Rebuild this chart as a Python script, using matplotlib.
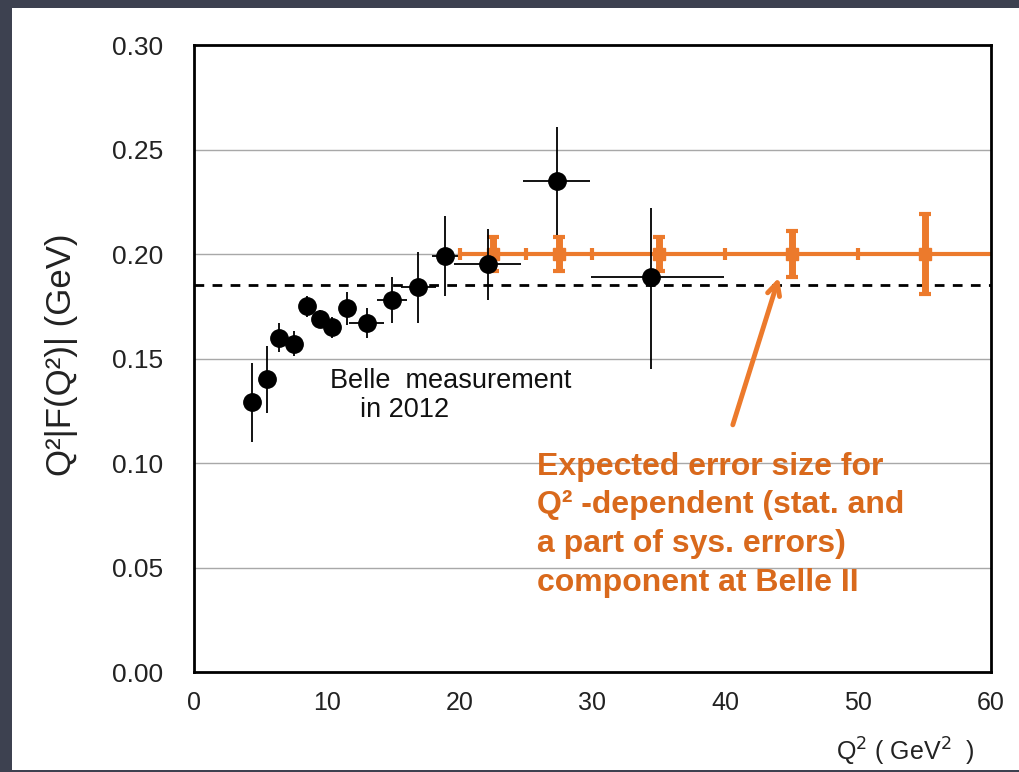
import matplotlib.pyplot as plt
from matplotlib.patches import Rectangle

plt.rcParams['font.family'] = ['Liberation Sans', 'DejaVu Sans']

# Belle 2012 measurement
belle_q2 = [4.4, 5.5, 6.4, 7.5, 8.5, 9.5, 10.4, 11.5, 13.0, 14.9, 16.9, 18.9, 22.1, 27.3, 34.4]
belle_val = [0.129, 0.140, 0.160, 0.157, 0.175, 0.169, 0.165, 0.174, 0.167, 0.178, 0.184, 0.199, 0.195, 0.235, 0.189]
belle_err_lo = [0.019, 0.016, 0.007, 0.006, 0.005, 0.004, 0.005, 0.008, 0.007, 0.011, 0.017, 0.019, 0.017, 0.026, 0.044]
belle_err_hi = [0.019, 0.016, 0.007, 0.006, 0.005, 0.004, 0.005, 0.008, 0.007, 0.011, 0.017, 0.019, 0.017, 0.026, 0.033]
belle_xerr_lo = [0.5, 0.5, 0.5, 0.5, 0.5, 0.5, 0.5, 0.5, 1.3, 1.1, 1.3, 1.0, 2.5, 2.5, 4.5]
belle_xerr_hi = [0.5, 0.5, 0.5, 0.5, 0.5, 0.5, 0.5, 0.5, 1.3, 1.1, 1.3, 1.0, 2.5, 2.5, 5.5]

# Belle II expectation
b2_level = 0.20
b2_range = [20, 60]
b2_centers = [22.5, 27.5, 35, 45, 55]
b2_err = [0.008, 0.008, 0.008, 0.011, 0.019]
b2_edges = [20, 25, 30, 40, 50]
b2_edge_err = [0.003] * len(b2_edges)

avg_level = 0.185

orange = "#EC7A2C"
orange_txt = "#D9691C"

fig = plt.figure(figsize=(10.19, 7.72), dpi=100, facecolor="#3d4150")
# white slide panel
fig.patches.append(Rectangle((0.012, 0.003), 0.988, 0.987, transform=fig.transFigure,
                             facecolor="white", edgecolor="none", zorder=-10))

ax = fig.add_axes([0.1904, 0.1295, 0.7821, 0.8122])
ax.set_xlim(0, 60)
ax.set_ylim(0, 0.30)

for y in [0.05, 0.10, 0.15, 0.20, 0.25]:
    ax.axhline(y, color="#a8a8a8", lw=1, zorder=0)

ax.axhline(avg_level, color="black", lw=2, linestyle=(0, (3.5, 3)), zorder=1)

# Belle II expected errors
ax.plot(b2_range, [b2_level, b2_level], color=orange, lw=3, zorder=2)
ax.errorbar(b2_edges, [b2_level] * len(b2_edges), yerr=b2_edge_err, fmt="none",
            ecolor=orange, elinewidth=3, zorder=2)
ax.errorbar(b2_centers, [b2_level] * len(b2_centers), yerr=b2_err, fmt="s",
            color=orange, markersize=8, ecolor=orange, elinewidth=5,
            capsize=4, capthick=3, zorder=3)

# Belle measurement
ax.errorbar(belle_q2, belle_val, yerr=[belle_err_lo, belle_err_hi],
            xerr=[belle_xerr_lo, belle_xerr_hi], fmt="o", color="black",
            markersize=12.5, ecolor="black", elinewidth=1.3, zorder=4)

ax.set_xticks([0, 10, 20, 30, 40, 50, 60])
ax.set_yticks([0.00, 0.05, 0.10, 0.15, 0.20, 0.25, 0.30])
ax.set_yticklabels(["0.00", "0.05", "0.10", "0.15", "0.20", "0.25", "0.30"])
ax.tick_params(axis="x", length=0, pad=14, labelsize=18, colors="#222222")
ax.tick_params(axis="y", length=0, pad=22, labelsize=19, colors="#222222")
for s in ax.spines.values():
    s.set_linewidth(2)

fig.text(0.060, 0.54, "Q²|F(Q²)| (GeV)", rotation=90, ha="center", va="center",
         fontsize=25, color="#222222")
fig.text(0.888, 0.026, "Q$^2$ ( GeV$^2$  )", ha="center", va="center",
         fontsize=18, color="#222222")

ax.text(10.2, 0.1455, "Belle  measurement\n    in 2012", ha="left", va="top",
        fontsize=19.5, color="#111111", linespacing=1.15)

ax.text(25.8, 0.1055, "Expected error size for\nQ² -dependent (stat. and\na part of sys. errors)\ncomponent at Belle II",
        ha="left", va="top", fontsize=23, fontweight="bold", color=orange_txt,
        linespacing=1.38)

ax.annotate("", xy=(44.1, 0.190), xytext=(40.5, 0.117),
            arrowprops=dict(arrowstyle="->,head_length=0.9,head_width=0.45",
                            color=orange, lw=3.5))

fig.savefig("out.png", dpi=100, facecolor=fig.get_facecolor())
